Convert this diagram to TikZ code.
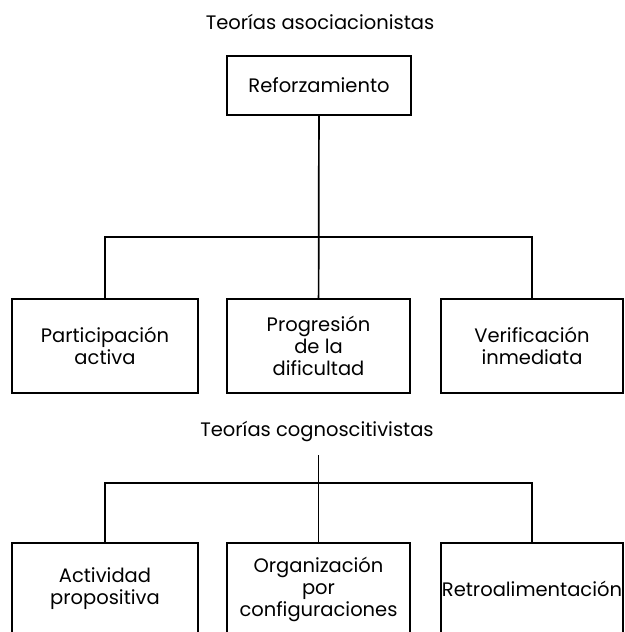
\documentclass[tikz,border=0pt]{standalone}
\usepackage{fontspec}
\setmainfont{Poppins}
\usetikzlibrary{positioning}

\tikzset{
	box/.style={draw, line width=1.7pt, inner sep=1pt, align=center,
		minimum height=94pt, font=\fontsize{19.5}{22}\selectfont},
	heading/.style={inner sep=0pt, font=\fontsize{19.5}{22}\selectfont},
	wire/.style={line width=1.7pt}
}

\begin{document}
\begin{tikzpicture}[x=1pt,y=-1pt]
	  \useasboundingbox (0,0) rectangle (624,632);

	  % Define nodes
	  \node[heading]                                  (asoc) at (320,22)  {Teorías asociacionistas};
	  \node[box, minimum width=184pt, minimum height=59pt] (ref)  at (319,85.5) {Reforzamiento};

	  \node[box, minimum width=186pt] (part)  at (105,346)   {Participación\\activa};
	  \node[box, minimum width=183pt] (prog)  at (318.5,346) {Progresión\\de la\\dificultad};
	  \node[box, minimum width=182pt] (verif) at (532,346)   {Verificación\\inmediata};

	  \node[heading]                                  (cogn) at (317,432) {Teorías cognoscitivistas};

	  \node[box, minimum width=186pt, minimum height=92pt] (act)   at (105,589)   {Actividad\\propositiva};
	  \node[box, minimum width=183pt, minimum height=92pt] (org)   at (318.5,589) {Organización\\por\\configuraciones};
	  \node[box, minimum width=182pt, minimum height=92pt] (retro) at (532,589)   {Retroalimentación};

	  \coordinate (j1)   at (318,237);
	  \coordinate (top2) at (318.5,455);
	  \coordinate (j2)   at (318,483);

	  % Connect the nodes
	  \draw[wire] (ref) -- (prog);
	  \draw[wire] (part.north) |- (j1) -| (verif.north);
	  \draw[wire] (top2) -- (org.north);
	  \draw[wire] (act.north) |- (j2) -| (retro.north);
	\end{tikzpicture}
\end{document}
